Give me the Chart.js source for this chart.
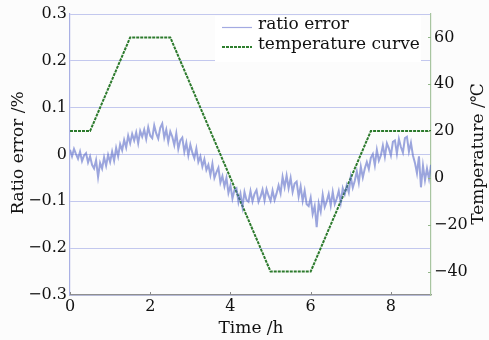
<!DOCTYPE html>
<html>
<head>
<meta charset="utf-8">
<script src="https://cdn.jsdelivr.net/npm/chart.js@4"></script>
<style>
html,body{margin:0;padding:0;background:#fcfcfc;}
#wrap{width:489px;height:340px;position:relative;}
</style>
</head>
<body>
<div id="wrap"><canvas id="c" width="489" height="340"></canvas></div>
<script>
// ---- data ----
const ratioStart = 0;      // h
const ratioStep = 0.05;    // h, sampling interval
const ratioValues = [
 0.010,-0.004,0.012,0.001,-0.009,0.006,-0.014,-0.002,0.003,-0.017,
 -0.004,-0.022,-0.030,-0.012,-0.048,-0.018,-0.030,-0.006,-0.024,-0.001,
 -0.016,0.006,-0.013,0.014,-0.004,0.022,0.009,0.031,0.015,0.040,
 0.024,0.044,0.030,0.047,0.024,0.050,0.038,0.053,0.033,0.058,
 0.040,0.035,0.062,0.045,0.034,0.057,0.066,0.036,0.053,0.027,
 0.049,0.038,0.020,0.045,0.012,0.030,0.036,0.006,0.025,-0.002,
 0.021,0.004,-0.008,0.013,-0.016,-0.004,-0.026,-0.010,-0.033,-0.022,
 -0.044,-0.020,-0.050,-0.038,-0.028,-0.060,-0.046,-0.068,-0.050,-0.082,
 -0.066,-0.094,-0.076,-0.072,-0.102,-0.084,-0.112,-0.080,-0.097,-0.101,
 -0.078,-0.100,-0.084,-0.076,-0.101,-0.090,-0.075,-0.098,-0.074,-0.088,
 -0.099,-0.077,-0.097,-0.083,-0.066,-0.083,-0.048,-0.070,-0.045,-0.072,
 -0.050,-0.080,-0.062,-0.058,-0.090,-0.068,-0.099,-0.077,-0.106,-0.110,
 -0.092,-0.127,-0.110,-0.155,-0.104,-0.122,-0.086,-0.112,-0.100,-0.084,
 -0.109,-0.080,-0.106,-0.094,-0.078,-0.103,-0.072,-0.085,-0.066,-0.081,
 -0.048,-0.071,-0.056,-0.036,-0.060,-0.026,-0.049,-0.030,-0.016,-0.031,
 -0.007,0.001,-0.023,0.010,-0.013,-0.002,0.019,-0.005,0.024,0.013,
 -0.002,0.027,0.030,0.002,0.033,0.016,0.004,0.035,0.038,0.006,
 0.025,-0.002,-0.018,-0.040,-0.004,-0.070,-0.024,-0.055,-0.030,-0.052,
 -0.022
];
const tempTime = [0, 0.5, 1.5, 2.5, 5, 6, 7.5, 9];
const tempValues = [20, 20, 60, 60, -40, -40, 20, 20];
const xTicks = [0, 2, 4, 6, 8];
const yTicks = [-0.3, -0.2, -0.1, 0, 0.1, 0.2, 0.3];
const y2Ticks = [-40, -20, 0, 20, 40, 60];
const seriesNames = ['ratio error', 'temperature curve'];

const ratioData = ratioValues.map((v, i) => ({x: +(ratioStart + i * ratioStep).toFixed(2), y: v}));
const tempData = tempTime.map((t, i) => ({x: t, y: tempValues[i]}));

const FONT = 'DejaVu Serif';
const fmt = v => {
  const r = Math.round(v * 10) / 10;
  if (r === 0) return '0';
  const s = Math.abs(r).toString();
  return (r < 0 ? '\u2212' : '') + s;
};
const fmtInt = v => (v < 0 ? '\u2212' : '') + Math.abs(v);

const decor = {
  id: 'decor',
  afterDraw(chart) {
    const ctx = chart.ctx;
    const a = chart.chartArea;
    const xs = chart.scales.x, y2 = chart.scales.y2;
    ctx.save();
    // inner tick marks on x axis
    ctx.strokeStyle = '#8a8a8a'; ctx.lineWidth = 1;
    xTicks.forEach(t => {
      const px = Math.round(xs.getPixelForValue(t)) + 0.5;
      ctx.beginPath(); ctx.moveTo(px, a.bottom); ctx.lineTo(px, a.bottom - 3); ctx.stroke();
    });
    // inner tick marks on right axis
    ctx.strokeStyle = '#93b58a';
    y2Ticks.forEach(t => {
      const py = Math.round(y2.getPixelForValue(t)) + 0.5;
      ctx.beginPath(); ctx.moveTo(a.right, py); ctx.lineTo(a.right - 3, py); ctx.stroke();
    });
    // legend box
    ctx.fillStyle = '#ffffff';
    ctx.fillRect(215, 16, 206, 46);
    ctx.lineWidth = 1.2;
    ctx.strokeStyle = '#a3aae2';
    ctx.beginPath(); ctx.moveTo(222, 27.5); ctx.lineTo(252, 27.5); ctx.stroke();
    ctx.lineWidth = 2;
    ctx.strokeStyle = '#2f7f2f';
    ctx.setLineDash([3, 1]);
    ctx.beginPath(); ctx.moveTo(222, 47); ctx.lineTo(252, 47); ctx.stroke();
    ctx.setLineDash([]);
    ctx.fillStyle = '#111';
    ctx.font = '17px "' + FONT + '"';
    ctx.textAlign = 'left'; ctx.textBaseline = 'middle';
    ctx.fillText(seriesNames[0], 258, 25);
    ctx.fillText(seriesNames[1], 258, 45);
    // axis titles
    ctx.textAlign = 'center';
    ctx.save(); ctx.translate(19, 153); ctx.rotate(-Math.PI / 2);
    ctx.fillText('Ratio error /%', 0, 0); ctx.restore();
    ctx.save(); ctx.translate(479, 154); ctx.rotate(-Math.PI / 2);
    ctx.fillText('Temperature /\u2103', 0, 0); ctx.restore();
    ctx.fillText('Time /h', 251, 329);
    ctx.restore();
  }
};

new Chart(document.getElementById('c'), {
  type: 'line',
  data: {
    datasets: [
      {label: seriesNames[0], data: ratioData, yAxisID: 'y', borderColor: 'rgba(90,106,200,0.6)',
       borderWidth: 2, pointRadius: 0, tension: 0, fill: false},
      {label: seriesNames[1], data: tempData, yAxisID: 'y2', borderColor: '#2c7a2c',
       borderWidth: 2, borderDash: [3, 1], pointRadius: 0, tension: 0, fill: false}
    ]
  },
  options: {
    responsive: false, animation: false, events: [],
    layout: {padding: {top: 14, left: 0, right: 0, bottom: 0}},
    plugins: {legend: {display: false}, tooltip: {enabled: false}},
    scales: {
      x: {
        type: 'linear', min: 0, max: 9,
        afterBuildTicks: s => { s.ticks = xTicks.map(v => ({value: v})); },
        afterFit: s => { s.height = 45; },
        ticks: {font: {family: FONT, size: 16}, color: '#111', padding: 2, maxRotation: 0},
        grid: {display: true, drawOnChartArea: false, drawTicks: false},
        border: {color: '#8f8f8f', width: 1.2}
      },
      y: {
        position: 'left', min: -0.3, max: 0.3,
        afterBuildTicks: s => { s.ticks = yTicks.map(v => ({value: v})); },
        afterFit: s => { s.width = 70; },
        ticks: {font: {family: FONT, size: 16}, color: '#111', padding: 3, callback: v => fmt(v)},
        grid: {color: '#c3c8ee', lineWidth: 1, drawTicks: false},
        border: {color: '#a9b0e4', width: 1.2}
      },
      y2: {
        position: 'right', min: -50, max: 70,
        afterBuildTicks: s => { s.ticks = y2Ticks.map(v => ({value: v})); },
        afterFit: s => { s.width = 58; },
        ticks: {font: {family: FONT, size: 16}, color: '#111', padding: 3, callback: v => fmtInt(v)},
        grid: {drawOnChartArea: false, drawTicks: false},
        border: {color: '#a8c5a0', width: 1.2}
      }
    }
  },
  plugins: [decor]
});
</script>
</body>
</html>
